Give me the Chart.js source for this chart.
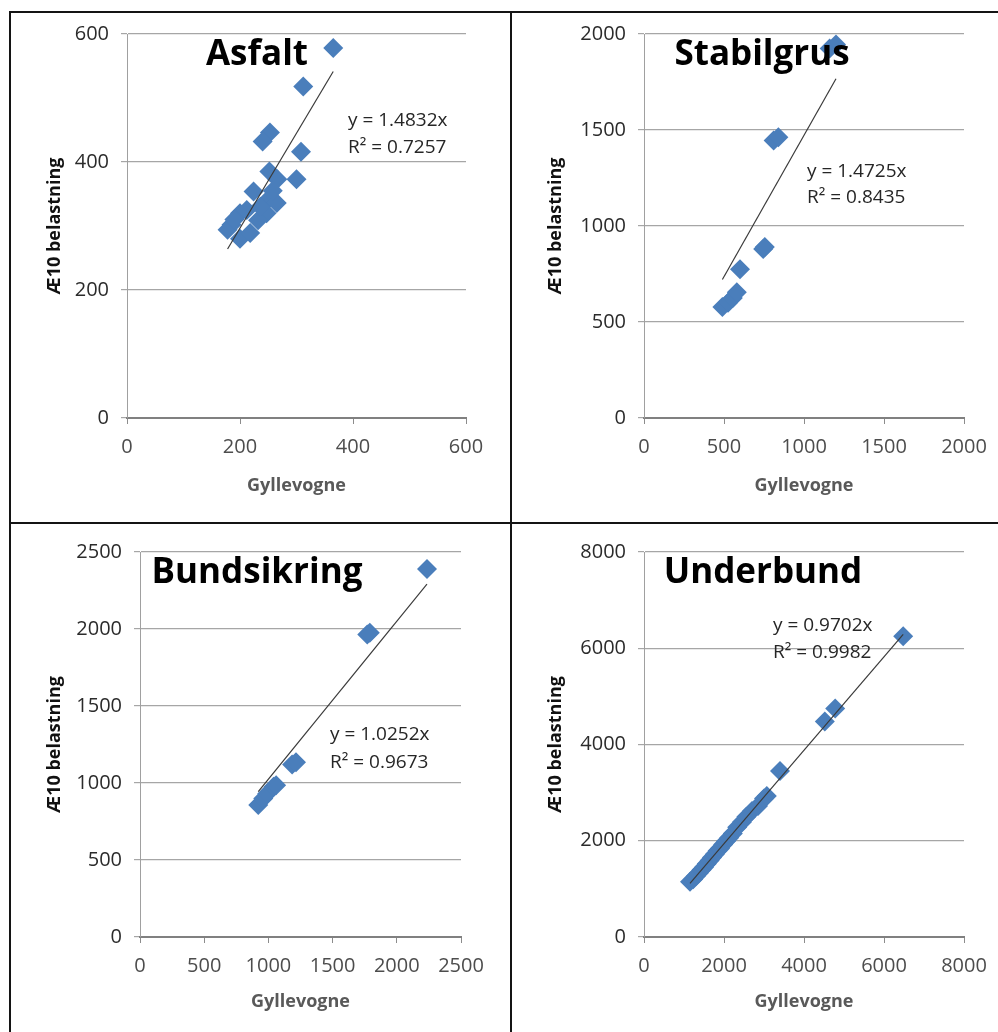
<!DOCTYPE html>
<html>
<head>
<meta charset="utf-8">
<script src="https://cdn.jsdelivr.net/npm/chart.js@4.4.1/dist/chart.umd.min.js"></script>
<style>
  html, body { margin: 0; padding: 0; background: #fff; }
  #wrap { position: relative; width: 998px; height: 1032px; overflow: hidden; background: #fff; }
  #wrap canvas { position: absolute; }
  .rule { position: absolute; background: #141414; }
</style>
</head>
<body>
<div id="wrap">
  <canvas id="c0"></canvas>
  <canvas id="c1"></canvas>
  <canvas id="c2"></canvas>
  <canvas id="c3"></canvas>
  <div class="rule" style="left:9px;top:11px;width:2px;height:1021px"></div>
  <div class="rule" style="left:9px;top:11px;width:989px;height:2px"></div>
  <div class="rule" style="left:510px;top:11px;width:2px;height:1021px"></div>
  <div class="rule" style="left:9px;top:522px;width:989px;height:2px"></div>
</div>
<script>
// ---- data ----
const panelNames = ['Asfalt', 'Stabilgrus', 'Bundsikring', 'Underbund'];
const xAxisTitle = 'Gyllevogne';
const yAxisTitle = 'Æ10 belastning';

const asfaltX = [365, 312, 253, 240, 308, 252, 266, 300, 224, 253, 265, 247, 200, 232, 185, 178, 200, 218, 212, 190, 236, 258];
const asfaltY = [578, 518, 446, 432, 416, 385, 373, 373, 354, 344, 336, 320, 320, 309, 302, 294, 280, 289, 325, 310, 330, 355];

const stabilgrusX = [490, 525, 555, 580, 600, 745, 755, 810, 840, 1160, 1200];
const stabilgrusY = [578, 600, 625, 655, 775, 880, 890, 1445, 1462, 1925, 1945];

const bundsikringX = [921, 960, 990, 1040, 1060, 1185, 1215, 1770, 1790, 2235];
const bundsikringY = [857, 900, 930, 975, 985, 1120, 1135, 1965, 1975, 2390];

const underbundX = [1150, 1230, 1300, 1370, 1440, 1500, 1570, 1640, 1700, 1770, 1840, 1900, 1980, 2050, 2130, 2220, 2330, 2450, 2560, 2700, 2850, 3000, 3070, 3400, 4520, 4780, 6480];
const underbundY = [1150, 1200, 1270, 1330, 1400, 1450, 1520, 1590, 1650, 1720, 1790, 1840, 1920, 1990, 2060, 2150, 2280, 2390, 2500, 2620, 2720, 2880, 2930, 3450, 4480, 4750, 6250];

// linear trend through origin: y = slope * x
const trendSlope = [1.4832, 1.4725, 1.0252, 0.9702];
const trendR2 = [0.7257, 0.8435, 0.9673, 0.9982];

// axis ranges
const xMax = [600, 2000, 2500, 8000];
const xStep = [200, 500, 500, 2000];
const yMax = [600, 2000, 2500, 8000];
const yStep = [200, 500, 500, 2000];

const seriesX = [asfaltX, stabilgrusX, bundsikringX, underbundX];
const seriesY = [asfaltY, stabilgrusY, bundsikringY, underbundY];

// ---- layout (page pixels) ----
const FONT = '"Open Sans", "Liberation Sans", Arial, sans-serif';
const layouts = [
  { canvas: [12, 14, 498, 508],  area: [127, 34, 466, 418], yTitleX: 55,  xTitleY: 486,
    name: [257, 65],  eq: [348, 126, 153] },
  { canvas: [513, 14, 485, 508], area: [644, 34, 964, 418], yTitleX: 556, xTitleY: 486,
    name: [762, 65],  eq: [807, 177, 203] },
  { canvas: [12, 525, 498, 507], area: [140, 552, 461, 937], yTitleX: 55,  xTitleY: 1002,
    name: [257, 583], eq: [330, 740, 768] },
  { canvas: [513, 525, 485, 507], area: [644, 552, 964, 937], yTitleX: 556, xTitleY: 1002,
    name: [763, 583], eq: [773, 631, 658] }
];

const Y_TITLE_SIZE = 18, X_TITLE_SIZE = 18, TITLE_PAD = 2;
const plainNumber = v => String(v);

// panel heading and trend equation drawn inside the plot
const panelText = {
  id: 'panelText',
  afterDatasetsDraw(chart, args, o) {
    const ctx = chart.ctx;
    ctx.save();
    ctx.textBaseline = 'alphabetic';
    ctx.fillStyle = '#000';
    ctx.font = 'bold 35px ' + FONT;
    ctx.textAlign = 'center';
    ctx.fillText(o.name, o.nameX, o.nameY);
    ctx.fillStyle = '#262626';
    ctx.font = '19px ' + FONT;
    ctx.textAlign = 'left';
    ctx.fillText(o.eq1, o.eqX, o.eqY1);
    ctx.fillText(o.eq2, o.eqX, o.eqY2);
    ctx.restore();
  }
};

layouts.forEach((L, i) => {
  const [cL, cT, cW, cH] = L.canvas;
  const [aL, aT, aR, aB] = L.area;
  const cv = document.getElementById('c' + i);
  cv.width = cW; cv.height = cH;
  cv.style.left = cL + 'px'; cv.style.top = cT + 'px';
  cv.style.width = cW + 'px'; cv.style.height = cH + 'px';

  const yHalf = Y_TITLE_SIZE * 1.2 / 2;
  const padLeft = L.yTitleX - cL - yHalf;
  const yW = aL - cL - padLeft;
  const padTop = aT - cT;
  const padRight = cL + cW - aR;
  const scaleBottom = L.xTitleY - cT + X_TITLE_SIZE * 1.2 / 2 + TITLE_PAD;
  const xH = scaleBottom - (aB - cT);
  const padBottom = cH - scaleBottom;

  const xs = seriesX[i], ys = seriesY[i];
  const pts = xs.map((x, k) => ({ x: x, y: ys[k] }));
  const lo = Math.min(...xs), hi = Math.max(...xs);
  const s = trendSlope[i];
  const trend = [{ x: lo, y: s * lo }, { x: hi, y: s * hi }];

  new Chart(cv, {
    type: 'scatter',
    data: {
      datasets: [
        { type: 'line', data: trend, borderColor: '#3a3a3a', borderWidth: 1.2,
          pointRadius: 0, fill: false, clip: false },
        { data: pts, pointStyle: 'rectRot', pointRadius: 10, pointHoverRadius: 10,
          backgroundColor: '#4a7ebb', borderColor: '#4a7ebb', borderWidth: 0, clip: false }
      ]
    },
    options: {
      responsive: false,
      animation: false,
      events: [],
      layout: { padding: { left: padLeft, top: padTop, right: padRight, bottom: padBottom } },
      plugins: {
        legend: { display: false },
        tooltip: { enabled: false },
        panelText: {
          name: panelNames[i], nameX: L.name[0] - cL, nameY: L.name[1] - cT,
          eq1: 'y = ' + s.toFixed(4) + 'x', eq2: 'R\u00B2 = ' + trendR2[i].toFixed(4),
          eqX: L.eq[0] - cL, eqY1: L.eq[1] - cT, eqY2: L.eq[2] - cT
        }
      },
      scales: {
        x: {
          type: 'linear', min: 0, max: xMax[i],
          ticks: { stepSize: xStep[i], autoSkip: false, maxRotation: 0, padding: 11,
                   color: '#4d4d4d', font: { family: FONT, size: 20 }, callback: plainNumber },
          grid: { drawOnChartArea: false, drawTicks: true, tickLength: 6, color: '#8c8c8c' },
          border: { color: '#808080', width: 2 },
          title: { display: true, text: xAxisTitle, color: '#595959',
                   font: { family: FONT, size: X_TITLE_SIZE, weight: 'bold' },
                   padding: { top: 0, bottom: TITLE_PAD } },
          afterFit(sc) { sc.height = xH; sc.paddingLeft = 0; sc.paddingRight = 0; }
        },
        y: {
          type: 'linear', min: 0, max: yMax[i],
          ticks: { stepSize: yStep[i], padding: 12, color: '#2b2b2b',
                   font: { family: FONT, size: 20 }, callback: plainNumber },
          grid: { color: '#a6a6a6', lineWidth: 1.2, tickLength: 6 },
          border: { color: '#a0a0a0', width: 1 },
          title: { display: true, text: yAxisTitle, color: '#111',
                   font: { family: FONT, size: Y_TITLE_SIZE, weight: 'bold' },
                   padding: { top: 0, bottom: 0 } },
          afterFit(sc) { sc.width = yW; sc.paddingTop = 0; sc.paddingBottom = 0; }
        }
      }
    },
    plugins: [panelText]
  });
});
</script>
</body>
</html>
